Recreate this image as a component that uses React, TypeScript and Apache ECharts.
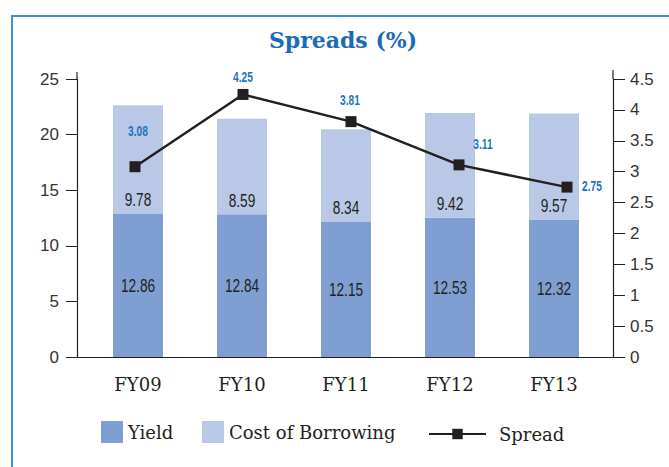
import React, { useEffect, useRef } from "react";
import * as echarts from "echarts";

const categories = ["FY09", "FY10", "FY11", "FY12", "FY13"];
const yieldValues = [12.86, 12.84, 12.15, 12.53, 12.32];
const costValues = [9.78, 8.59, 8.34, 9.42, 9.57];
const spreadValues = [3.08, 4.25, 3.81, 3.11, 2.75];
const leftTicks = { min: 0, max: 25, interval: 5 };
const rightTicks = { min: 0, max: 4.5, interval: 0.5 };

// label placement for spread values, pixel offset of label centre from point (style only)
const spreadLabelOffsets = [
  [3, -36],
  [0, -18],
  [-1, -22],
  [24, -21],
  [25, -1],
];

const BLUE = "#1c74bd";
const DARK = "#231f20";
const SERIF = "'DejaVu Serif', 'Liberation Serif', serif";
const SANS = "'Liberation Sans', 'Noto Sans', sans-serif";

export default function App() {
  const ref = useRef<HTMLDivElement>(null);
  useEffect(() => {
    if (!ref.current) return;
    const chart = echarts.init(ref.current, null, { renderer: "svg" });
    const grid = { top: 79, bottom: 110 };

    const numText = (x: number, y: number, text: string, opts: any) => ({
      type: "text",
      x,
      y,
      scaleX: opts.scaleX,
      style: {
        text,
        fill: opts.fill,
        fontFamily: SANS,
        fontSize: opts.fontSize,
        fontWeight: opts.fontWeight || "normal",
        textAlign: "center",
        textVerticalAlign: "middle",
      },
    });

    const option: any = {
      animation: false,
      backgroundColor: "#ffffff",
      grid: [
        { ...grid, left: 77, right: 56 },
        { ...grid, left: 86, right: 63 },
        { ...grid, left: 81, right: 48 },
      ],
      xAxis: [
        {
          type: "category",
          gridIndex: 0,
          data: categories,
          axisLine: { show: true, lineStyle: { color: DARK, width: 1.2 } },
          axisTick: { show: false },
          axisLabel: { show: false },
        },
        {
          type: "category",
          gridIndex: 1,
          data: categories,
          axisLine: { show: false },
          axisTick: { show: false },
          axisLabel: { color: DARK, fontFamily: SERIF, fontSize: 18, margin: 18 },
        },
        {
          type: "category",
          gridIndex: 2,
          data: categories,
          show: false,
        },
      ],
      yAxis: [
        {
          type: "value",
          gridIndex: 0,
          position: "left",
          ...leftTicks,
          splitLine: { show: false },
          axisLine: { show: true, lineStyle: { color: DARK, width: 1.2 } },
          axisTick: { show: true, length: 11, lineStyle: { color: DARK } },
          axisLabel: { color: "#333", fontFamily: SANS, fontSize: 17, margin: 18 },
        },
        {
          type: "value",
          gridIndex: 0,
          position: "right",
          ...rightTicks,
          splitLine: { show: false },
          axisLine: { show: true, lineStyle: { color: DARK, width: 1.2 } },
          axisTick: { show: true, length: 12, lineStyle: { color: DARK } },
          axisLabel: { color: "#333", fontFamily: SANS, fontSize: 17, margin: 17 },
        },
        { type: "value", gridIndex: 1, ...leftTicks, show: false, splitLine: { show: false } },
        { type: "value", gridIndex: 2, ...rightTicks, show: false, splitLine: { show: false } },
      ],
      legend: [
        {
          left: 101,
          top: 421,
          padding: 0,
          itemWidth: 22,
          itemHeight: 22,
          icon: "rect",
          data: ["Yield"],
          textStyle: { color: DARK, fontFamily: SERIF, fontSize: 18 },
        },
        {
          left: 202,
          top: 421,
          padding: 0,
          itemWidth: 22,
          itemHeight: 22,
          icon: "rect",
          data: ["Cost of Borrowing"],
          textStyle: { color: DARK, fontFamily: SERIF, fontSize: 18 },
        },
        {
          left: 428,
          top: 425,
          padding: 0,
          itemWidth: 57,
          itemHeight: 13,
          data: ["Spread"],
          textStyle: { color: DARK, fontFamily: SERIF, fontSize: 18, padding: [0, 0, 0, 8] },
        },
      ],
      graphic: [
        {
          type: "rect",
          shape: { x: 12, y: 16, width: 720, height: 520 },
          style: { fill: "none", stroke: "#3f8fd2", lineWidth: 2 },
          z: -1,
        },
        {
          type: "text",
          x: 343,
          y: 40,
          style: {
            text: "Spreads (%)",
            fill: "#1a6bb8",
            fontFamily: SERIF,
            fontWeight: "bold",
            fontSize: 22,
            textAlign: "center",
            textVerticalAlign: "middle",
          },
        },
        {
          type: "line",
          shape: { x1: 77, y1: 72, x2: 77, y2: 79 },
          style: { stroke: DARK, lineWidth: 1.2 },
        },
        {
          type: "line",
          shape: { x1: 613, y1: 70, x2: 613, y2: 79 },
          style: { stroke: DARK, lineWidth: 1.2 },
        },
      ],
      series: [
        {
          name: "Yield",
          type: "bar",
          xAxisIndex: 1,
          yAxisIndex: 2,
          stack: "total",
          barWidth: 50,
          data: yieldValues,
          itemStyle: { color: "#7f9fd3" },
        },
        {
          name: "Cost of Borrowing",
          type: "bar",
          xAxisIndex: 1,
          yAxisIndex: 2,
          stack: "total",
          barWidth: 50,
          data: costValues,
          itemStyle: { color: "#b9c8e6" },
        },
        {
          name: "Spread",
          type: "line",
          xAxisIndex: 2,
          yAxisIndex: 3,
          symbol: "rect",
          symbolSize: 11,
          lineStyle: { color: DARK, width: 2.5 },
          itemStyle: { color: DARK },
          data: spreadValues,
          z: 5,
        },
        {
          type: "custom",
          xAxisIndex: 1,
          yAxisIndex: 2,
          silent: true,
          z: 6,
          data: yieldValues.map((v, i) => [i, v, costValues[i]]),
          renderItem: (params: any, api: any) => {
            const i = api.value(0);
            const y = api.value(1);
            const c = api.value(2);
            const mid = api.coord([i, y / 2]);
            const top = api.coord([i, y]);
            return {
              type: "group",
              children: [
                numText(mid[0], mid[1], y.toFixed(2), { fill: DARK, fontSize: 19, scaleX: 0.72 }),
                numText(top[0], top[1] - 14, c.toFixed(2), { fill: DARK, fontSize: 19, scaleX: 0.72 }),
              ],
            };
          },
        },
        {
          type: "custom",
          xAxisIndex: 2,
          yAxisIndex: 3,
          silent: true,
          z: 6,
          data: spreadValues.map((v, i) => [i, v]),
          renderItem: (params: any, api: any) => {
            const i = api.value(0);
            const v = api.value(1);
            const p = api.coord([i, v]);
            const off = spreadLabelOffsets[i];
            return numText(p[0] + off[0], p[1] + off[1], v.toFixed(2), {
              fill: BLUE,
              fontSize: 15,
              fontWeight: "bold",
              scaleX: 0.68,
            });
          },
        },
      ],
    };
    chart.setOption(option);
    return () => chart.dispose();
  }, []);
  return <div ref={ref} style={{ width: 669, height: 467, position: "absolute", left: 0, top: 0 }} />;
}
